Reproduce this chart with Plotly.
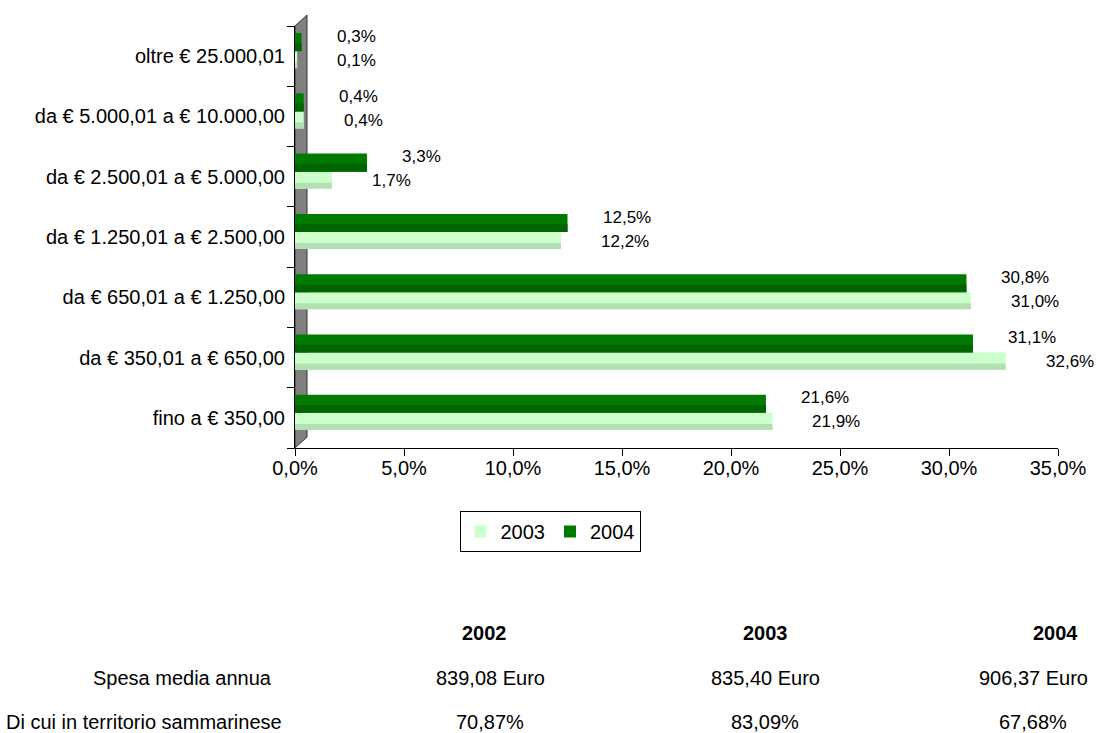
import plotly.graph_objects as go

# ---------------- data ----------------
categories = [
    "fino a € 350,00",
    "da € 350,01 a € 650,00",
    "da € 650,01 a € 1.250,00",
    "da € 1.250,01 a € 2.500,00",
    "da € 2.500,01 a € 5.000,00",
    "da € 5.000,01 a € 10.000,00",
    "oltre € 25.000,01",
]
values_2003 = [21.9, 32.6, 31.0, 12.2, 1.7, 0.4, 0.1]
values_2004 = [21.6, 31.1, 30.8, 12.5, 3.3, 0.4, 0.3]
series_names = ["2003", "2004"]
x_tick_values = [0, 5, 10, 15, 20, 25, 30, 35]

table_years = ["2002", "2003", "2004"]
table_row_labels = ["Spesa media annua", "Di cui in territorio sammarinese"]
table_spesa = ["839,08 Euro", "835,40 Euro", "906,37 Euro"]
table_quota = ["70,87%", "83,09%", "67,68%"]

# ---------------- layout geometry ----------------
W, H = 1099, 733
PL, PR, PT, PB = 295, 1058, 26, 448   # plot area in pixels
FONT = "Liberation Sans, Arial, sans-serif"


def px(xp):
    return (xp - PL) / (PR - PL)


def py(yp):
    return (PB - yp) / (PB - PT)


def fmt(v):
    return f"{v:.1f}".replace(".", ",") + "%"


LIGHT = "#CCFFCC"
LIGHT_SHADE = "#B3E0B3"
DARK = "#007A00"
DARK_SHADE = "#006400"

fig = go.Figure()

# 2003 (light) bars
fig.add_trace(go.Bar(
    y=categories, x=values_2003, orientation="h", name=series_names[0],
    marker=dict(color=LIGHT, line=dict(width=0)),
    offset=-0.2, width=0.283, showlegend=True,
))
fig.add_trace(go.Bar(
    y=categories, x=values_2003, orientation="h", name=series_names[0],
    marker=dict(color=LIGHT_SHADE, line=dict(width=0)),
    offset=-0.2, width=0.1, showlegend=False, hoverinfo="skip",
))
# 2004 (dark) bars
fig.add_trace(go.Bar(
    y=categories, x=values_2004, orientation="h", name=series_names[1],
    marker=dict(color=DARK, line=dict(width=0)),
    offset=0.083, width=0.3, showlegend=True,
))
fig.add_trace(go.Bar(
    y=categories, x=values_2004, orientation="h", name=series_names[1],
    marker=dict(color=DARK_SHADE, line=dict(width=0)),
    offset=0.083, width=0.13, showlegend=False, hoverinfo="skip",
))

annotations = []
# data labels
for c, v in zip(categories, values_2004):
    annotations.append(dict(
        x=v, y=c, xref="x", yref="y", text=fmt(v), showarrow=False,
        xanchor="left", yanchor="middle", xshift=33, yshift=20,
        font=dict(family=FONT, size=17, color="black"),
    ))
for c, v in zip(categories, values_2003):
    annotations.append(dict(
        x=v, y=c, xref="x", yref="y", text=fmt(v), showarrow=False,
        xanchor="left", yanchor="middle", xshift=38, yshift=-4,
        font=dict(family=FONT, size=17, color="black"),
    ))

# table below the chart
header_x = [484, 765, 1055]
value_x = [490, 765, 1033]
row_label_x = [182, 144]
header_y, row_y = 633, [678, 722]
for yr, xp in zip(table_years, header_x):
    annotations.append(dict(
        x=px(xp), y=py(header_y), xref="paper", yref="paper", text=f"<b>{yr}</b>",
        showarrow=False, xanchor="center", yanchor="middle",
        font=dict(family=FONT, size=20, color="black"),
    ))
for lab, xp, yp in zip(table_row_labels, row_label_x, row_y):
    annotations.append(dict(
        x=px(xp), y=py(yp), xref="paper", yref="paper", text=lab,
        showarrow=False, xanchor="center", yanchor="middle",
        font=dict(family=FONT, size=20, color="black"),
    ))
for row, yp in zip([table_spesa, table_quota], row_y):
    for val, xp in zip(row, value_x):
        annotations.append(dict(
            x=px(xp), y=py(yp), xref="paper", yref="paper", text=val,
            showarrow=False, xanchor="center", yanchor="middle",
            font=dict(family=FONT, size=20, color="black"),
        ))

# grey 3-D side wall
wall_w = 12 / (PR - PL)
wall_d = 11 / (PB - PT)
shapes = [dict(
    type="path", xref="paper", yref="paper", layer="below",
    path=f"M 0 0 L 0 1 L {wall_w} {1 + wall_d} L {wall_w} {wall_d} Z",
    fillcolor="#808080", line=dict(color="#333333", width=1),
)]

fig.update_layout(
    width=W, height=H,
    margin=dict(l=PL, r=W - PR, t=PT, b=H - PB, pad=0),
    paper_bgcolor="white", plot_bgcolor="white",
    barmode="overlay",
    separators=",.",
    font=dict(family=FONT, size=20, color="black"),
    showlegend=True,
    legend=dict(
        orientation="h", x=px(550), xanchor="center", y=py(511), yanchor="top",
        bordercolor="black", borderwidth=1, bgcolor="white",
        font=dict(family=FONT, size=20, color="black"),
        itemwidth=30, traceorder="normal",
    ),
    xaxis=dict(
        range=[0, 35], tickvals=x_tick_values,
        ticktext=[fmt(v) for v in x_tick_values],
        showline=True, linecolor="black", linewidth=1,
        ticks="outside", ticklen=7, tickcolor="black",
        ticklabelstandoff=-5,
        showgrid=False, zeroline=False,
        tickfont=dict(family=FONT, size=20, color="black"),
    ),
    yaxis=dict(
        type="category", categoryorder="array", categoryarray=categories,
        range=[-0.5, len(categories) - 0.5],
        showline=True, linecolor="black", linewidth=1,
        ticks="outside", ticklen=7, tickcolor="black", tickson="boundaries",
        ticklabelstandoff=5,
        showgrid=False, zeroline=False,
        tickfont=dict(family=FONT, size=20, color="black"),
    ),
    annotations=annotations,
    shapes=shapes,
)

fig.write_html(
    "out.html",
    config={"displayModeBar": False},
    post_script="document.body.style.margin='0';document.body.style.overflow='hidden';",
)
